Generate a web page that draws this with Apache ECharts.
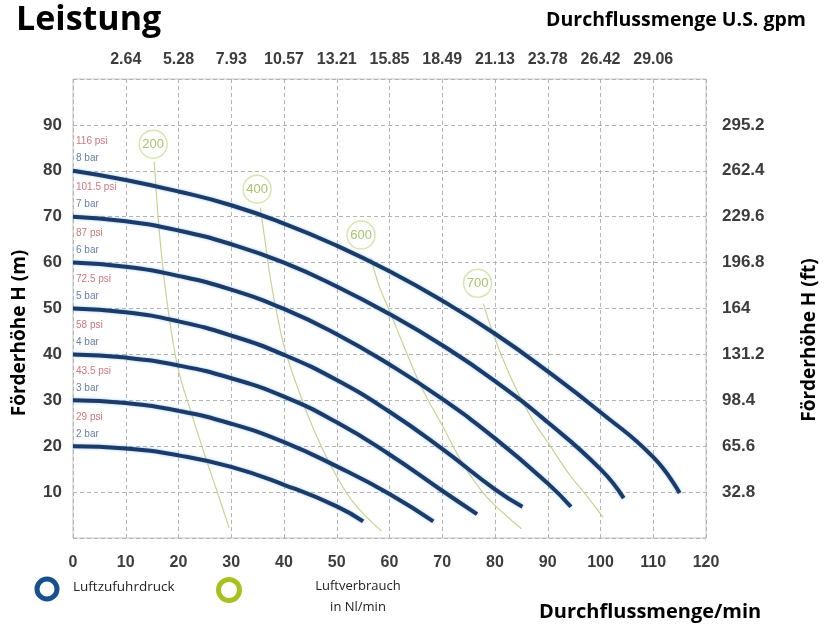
<!DOCTYPE html>
<html lang="de">
<head>
<meta charset="UTF-8">
<script src="https://cdn.jsdelivr.net/npm/echarts@6/dist/echarts.min.js"></script>
<title>Leistung</title>
</head>
<body style="margin:0;background:#fff">
<div id="chart" style="width:828px;height:628px;"></div>
<script>
// Förderhöhe (m) über Durchfluss (l/min), je Luftzufuhrdruck
var bar2 = [[0,20],[10,19.5],[20,18],[30,15.5],[40,11.6],[50,6.9],[55,3.6]];
var bar3 = [[0,30],[10,29.4],[20,27.7],[30,24.9],[40,20.9],[50,15.6],[60,9.6],[68.3,3.6]];
var bar4 = [[0,40],[10,39.3],[20,37.6],[30,34.8],[40,30.8],[50,25.2],[60,18.2],[70,10.3],[76.6,5.2]];
var bar5 = [[0,50],[10,49.2],[20,47.2],[30,44.1],[40,39.9],[50,34.4],[60,27.5],[70,19.4],[80,10.6],[85.2,6.8]];
var bar6 = [[0,60],[10,59.1],[20,57.1],[30,54.1],[40,49.9],[50,44.4],[60,37.8],[70,30.3],[80,21.7],[90,11.9],[94.4,6.8]];
var bar7 = [[0,70],[10,69],[20,67],[30,64],[40,60],[50,54.8],[60,48.8],[70,42],[80,34.2],[90,25.2],[100,15],[104.4,8.7]];
var bar8 = [[0,80],[10,78],[20,75.5],[30,72.5],[40,68.5],[50,63.7],[60,58.1],[70,51.7],[80,44.5],[90,36.3],[100,27.4],[110,17.6],[115,9.8]];

// Luftverbrauch (Nl/min)
var air200 = [[15.4,82],[16.5,65],[18,50],[20,36.5],[22.5,27],[25,18],[27.5,9.5],[29.6,2.2]];
var air400 = [[35.5,72],[36.5,64],[37.5,56],[38.8,48],[40.2,41],[42.5,33],[45.5,24],[49,15.5],[53,8],[58.5,1.5]];
var air600 = [[56.5,61],[58,55],[60,49.5],[63,41],[66,33],[70,24.5],[74,16],[78,9.5],[82,5],[85,2]];
var air700 = [[77.8,51],[79.5,45],[81.5,39],[84,32.5],[87,26],[90.5,20],[94,14],[97.5,9],[100.5,4.5]];
var airNames = ['200', '400', '600', '700'];
var airTags = [[15.2,85.8],[34.9,76],[54.6,66],[76.7,55.5]];

var startHeads = [20, 30, 40, 50, 60, 70, 80];
var psiLabels = ['29 psi', '43.5 psi', '58 psi', '72.5 psi', '87 psi', '101.5 psi', '116 psi'];
var barLabels = ['2 bar', '3 bar', '4 bar', '5 bar', '6 bar', '7 bar', '8 bar'];

var gpmLabels = ['2.64','5.28','7.93','10.57','13.21','15.85','18.49','21.13','23.78','26.42','29.06'];
var ftLabels = ['32.8','65.6','98.4','131.2','164','196.8','229.6','262.4','295.2'];

var chart = echarts.init(document.getElementById('chart'));

var tickFont = { fontWeight: 'bold', color: '#3c3c3c', fontFamily: 'Liberation Sans, Arial' };
var dashed = { show: true, lineStyle: { color: '#b4b4b4', type: [4, 3], width: 1 } };

var series = [];
[bar2, bar3, bar4, bar5, bar6, bar7, bar8].forEach(function (c) {
    series.push({
        type: 'line', data: c, smooth: 0.5, showSymbol: false, z: 4,
        lineStyle: { color: '#1c3b68', width: 4, shadowColor: 'rgba(110,180,235,0.7)', shadowBlur: 3 }
    });
});
[air200, air400, air600, air700].forEach(function (c) {
    series.push({
        type: 'line', data: c, smooth: 0.4, showSymbol: false, z: 3,
        lineStyle: { color: '#c6d492', width: 1.2 }
    });
});
// Kreise mit Luftverbrauch
series.push({
    type: 'scatter', z: 5, symbol: 'circle', symbolSize: 28,
    data: airTags.map(function (p, i) { return { value: p, name: airNames[i] }; }),
    itemStyle: { color: '#ffffff', borderColor: '#cddf9c', borderWidth: 1.5 },
    label: { show: true, position: 'inside', formatter: '{b}', color: '#8fb548', fontSize: 13 }
});
// Druckangaben am linken Rand
series.push({
    type: 'scatter', z: 5, symbolSize: 0,
    data: startHeads.map(function (h, i) { return { value: [0, h + 6.4], name: psiLabels[i] }; }),
    label: { show: true, position: 'right', distance: 3, formatter: '{b}', color: '#c4545a', fontSize: 10 }
});
series.push({
    type: 'scatter', z: 5, symbolSize: 0,
    data: startHeads.map(function (h, i) { return { value: [0, h + 2.7], name: barLabels[i] }; }),
    label: { show: true, position: 'right', distance: 3, formatter: '{b}', color: '#3e5e90', fontSize: 10 }
});

var option = {
    animation: false,
    grid: { left: 73, right: 122, top: 79, bottom: 90, show: true, borderColor: '#c4c4c4', borderWidth: 1, backgroundColor: '#fff' },
    xAxis: [{
        type: 'value', position: 'bottom', min: 0, max: 120, interval: 10,
        axisLine: { show: false }, axisTick: { show: false }, splitLine: dashed,
        axisLabel: Object.assign({ fontSize: 16, margin: 17, showMinLabel: true, showMaxLabel: true }, tickFont)
    }, {
        type: 'value', position: 'top', min: 0, max: 120, interval: 10,
        axisLine: { show: false }, axisTick: { show: false }, splitLine: { show: false },
        axisLabel: Object.assign({
            fontSize: 16, margin: 11,
            formatter: function (v) { return (v >= 10 && v <= 110) ? gpmLabels[Math.round(v / 10) - 1] : ''; }
        }, tickFont)
    }],
    yAxis: [{
        type: 'value', position: 'left', min: 0, max: 100, interval: 10,
        axisLine: { show: false }, axisTick: { show: false }, splitLine: dashed,
        axisLabel: Object.assign({
            fontSize: 17, margin: 11,
            formatter: function (v) { return (v >= 10 && v <= 90) ? String(v) : ''; }
        }, tickFont)
    }, {
        type: 'value', position: 'right', min: 0, max: 100, interval: 10,
        axisLine: { show: false }, axisTick: { show: false }, splitLine: { show: false },
        axisLabel: Object.assign({
            fontSize: 17, margin: 16,
            formatter: function (v) { return (v >= 10 && v <= 90) ? ftLabels[Math.round(v / 10) - 1] : ''; }
        }, tickFont)
    }],
    series: series,
    graphic: [
        { type: 'text', left: 16, top: 3, style: { text: 'Leistung', font: 'bold 34px "Open Sans", sans-serif', fill: '#000' } },
        { type: 'text', right: 22, top: 10, style: { text: 'Durchflussmenge U.S. gpm', font: 'bold 19.5px "Open Sans", sans-serif', fill: '#000' } },
        { type: 'text', x: 20, y: 333, rotation: Math.PI / 2, style: { text: 'Förderhöhe H (m)', font: 'bold 19px "Open Sans", sans-serif', fill: '#000', align: 'center', verticalAlign: 'middle' } },
        { type: 'text', x: 810, y: 340, rotation: Math.PI / 2, style: { text: 'Förderhöhe H (ft)', font: 'bold 19px "Open Sans", sans-serif', fill: '#000', align: 'center', verticalAlign: 'middle' } },
        { type: 'text', x: 539, y: 602, style: { text: 'Durchflussmenge/min', font: 'bold 20px "Open Sans", sans-serif', fill: '#000' } },
        { type: 'circle', shape: { cx: 47, cy: 589, r: 10 }, style: { fill: 'none', stroke: '#17508f', lineWidth: 5 } },
        { type: 'text', x: 73, y: 580, style: { text: 'Luftzufuhrdruck', font: '13.5px "Open Sans", sans-serif', fill: '#222' } },
        { type: 'circle', shape: { cx: 229, cy: 590, r: 10.5 }, style: { fill: 'none', stroke: '#a9c01f', lineWidth: 5 } },
        { type: 'text', x: 358, y: 586, style: { text: 'Luftverbrauch', font: '13px "Open Sans", sans-serif', fill: '#222', align: 'center', verticalAlign: 'middle' } },
        { type: 'text', x: 358, y: 607, style: { text: 'in Nl/min', font: '13px "Open Sans", sans-serif', fill: '#222', align: 'center', verticalAlign: 'middle' } }
    ]
};
chart.setOption(option);
</script>
</body>
</html>
